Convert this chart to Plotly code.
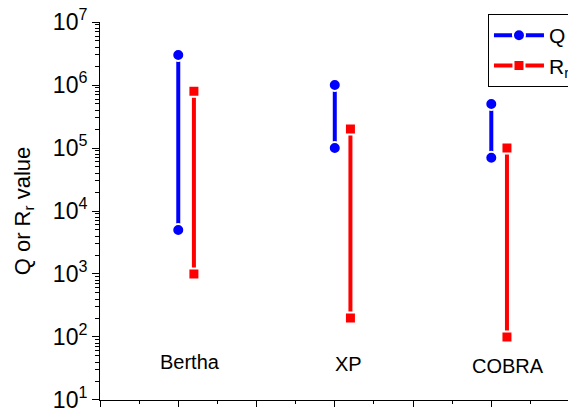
import plotly.graph_objects as go

categories = ["Bertha", "XP", "COBRA"]
q_max = [3e6, 1e6, 5e5]
q_min = [5e3, 1e5, 7e4]
r_max = [8e5, 2e5, 1e5]
r_min = [1e3, 200, 100]
y_exponents = [1, 2, 3, 4, 5, 6, 7]

R_OFFSET = 0.1

def segments(vmax, vmin, offset):
    xs, ys = [], []
    for i, (a, b) in enumerate(zip(vmax, vmin)):
        xs += [i + 1 + offset, i + 1 + offset, None]
        ys += [a, b, None]
    return xs, ys

FONT = "Arial, Liberation Sans, sans-serif"

qx, qy = segments(q_max, q_min, 0)
rx, ry = segments(r_max, r_min, R_OFFSET)

y_tickvals = [10 ** e for e in y_exponents]
y_ticktext = ["10<sup>%d</sup>" % e for e in y_exponents]
y_minor = [m * 10 ** e for e in y_exponents[:-1] for m in range(2, 10)]
Y_RANGE = [0.9995, 7.0005]

fig = go.Figure()
fig.add_trace(go.Scatter(
    x=qx, y=qy, mode="lines+markers", name="Q",
    line=dict(color="#0000FF", width=4),
    marker=dict(symbol="circle", size=12, color="#0000FF",
                line=dict(color="white", width=2)),
))
fig.add_trace(go.Scatter(
    x=rx, y=ry, mode="lines+markers", name="R<sub>r</sub>",
    line=dict(color="#FF0000", width=4),
    marker=dict(symbol="square", size=11, color="#FF0000",
                line=dict(color="white", width=2)),
))

label_dx = [0.075, 0.085, 0.107]
label_y = [1.60, 1.57, 1.54]
for i, name in enumerate(categories):
    fig.add_annotation(x=i + 1 + label_dx[i], y=label_y[i], text=name,
                       showarrow=False, xref="x", yref="y",
                       font=dict(family=FONT, size=20, color="black"))

fig.update_layout(
    width=568, height=412,
    margin=dict(l=100, r=0, t=22, b=12, autoexpand=False),
    paper_bgcolor="white", plot_bgcolor="white",
    font=dict(family=FONT, color="black"),
    showlegend=True,
    legend=dict(x=0.829, y=1.021, xanchor="left", yanchor="top",
                bgcolor="white", bordercolor="black", borderwidth=1,
                font=dict(family=FONT, size=21, color="black"),
                itemwidth=50, tracegroupgap=0),
    xaxis=dict(range=[0.5, 3.49], showgrid=False, zeroline=False,
               showline=True, linecolor="black", linewidth=1,
               tick0=0.5, dtick=0.5, ticks="outside", ticklen=6,
               tickcolor="black", showticklabels=False,
               minor=dict(ticks="outside", ticklen=3, dtick=0.25,
                          tickcolor="black", showgrid=False)),
    yaxis=dict(type="log", range=Y_RANGE, showgrid=False, zeroline=False,
               showline=True, linecolor="black", linewidth=1,
               tickmode="array", tickvals=y_tickvals, ticktext=y_ticktext,
               ticks="outside", ticklen=7, tickwidth=1, tickcolor="black",
               ticklabeloverflow="allow",
               tickfont=dict(family=FONT, size=23, color="black"),
               minor=dict(ticks="outside", ticklen=4, tickwidth=1,
                          tickmode="array", tickvals=y_minor,
                          tickcolor="black", showgrid=False),
               title=dict(text="Q or R<sub>r</sub> value", standoff=16,
                          font=dict(family=FONT, size=22, color="black")),
               automargin=False),
)

fig.write_html("out.html")
